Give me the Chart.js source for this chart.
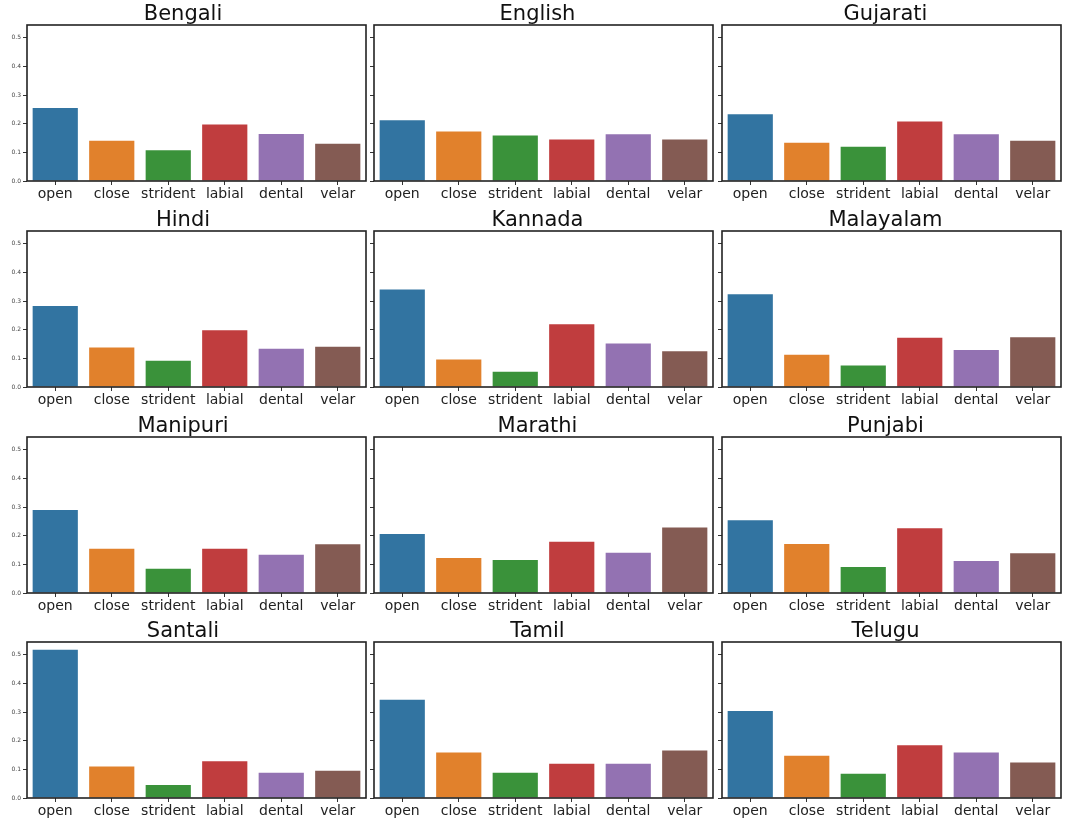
<!DOCTYPE html>
<html>
<head>
<meta charset="utf-8">
<script src="https://cdn.jsdelivr.net/npm/chart.js@4/dist/chart.umd.min.js"></script>
<style>
body { margin: 0; background: #fff; }
#wrap { position: relative; width: 1076px; height: 824px; overflow: hidden; }
#wrap canvas { position: absolute; }
</style>
</head>
<body>
<div id="wrap"></div>
<script>
// categories on the x axis
var categories = ['open', 'close', 'strident', 'labial', 'dental', 'velar'];
var yTicks = [0.0, 0.1, 0.2, 0.3, 0.4, 0.5];

// one small array per language
var bengali   = [0.255, 0.141, 0.107, 0.197, 0.164, 0.130];
var english   = [0.212, 0.173, 0.159, 0.145, 0.163, 0.145];
var gujarati  = [0.233, 0.134, 0.120, 0.208, 0.163, 0.141];
var hindi     = [0.283, 0.138, 0.092, 0.198, 0.134, 0.141];
var kannada   = [0.341, 0.096, 0.053, 0.219, 0.152, 0.125];
var malayalam = [0.324, 0.113, 0.075, 0.172, 0.129, 0.174];
var manipuri  = [0.290, 0.155, 0.085, 0.155, 0.134, 0.170];
var marathi   = [0.206, 0.122, 0.115, 0.179, 0.141, 0.229];
var punjabi   = [0.254, 0.171, 0.091, 0.226, 0.112, 0.139];
var santali   = [0.518, 0.110, 0.045, 0.128, 0.088, 0.095];
var tamil     = [0.343, 0.159, 0.088, 0.120, 0.120, 0.166];
var telugu    = [0.304, 0.148, 0.085, 0.184, 0.159, 0.124];

var panels = [
  ['Bengali', bengali], ['English', english], ['Gujarati', gujarati],
  ['Hindi', hindi], ['Kannada', kannada], ['Malayalam', malayalam],
  ['Manipuri', manipuri], ['Marathi', marathi], ['Punjabi', punjabi],
  ['Santali', santali], ['Tamil', tamil], ['Telugu', telugu]
];

var barColors = ['#3274a1', '#e1812c', '#3a923a', '#c03d3e', '#9372b2', '#845b53'];

// layout of the grid (plot areas)
var colLeft = [27, 374, 722];
var rowTop = [25, 231, 437, 642];
var plotW = 339, plotH = 156;
var titleH = 32, xAxisH = 26, rightPad = 3;

// black frame round each plot area
var framePlugin = {
  id: 'frame',
  afterDraw: function (chart) {
    var a = chart.chartArea, ctx = chart.ctx;
    ctx.save();
    ctx.strokeStyle = '#222';
    ctx.lineWidth = 1.6;
    ctx.strokeRect(a.left, a.top, a.right - a.left, a.bottom - a.top);
    ctx.restore();
  }
};

panels.forEach(function (p, i) {
  var col = i % 3, row = Math.floor(i / 3);
  var axisW = col === 0 ? 27 : 12;
  var cv = document.createElement('canvas');
  var w = axisW + plotW + rightPad, h = titleH + plotH + xAxisH;
  cv.width = w; cv.height = h;
  cv.style.width = w + 'px'; cv.style.height = h + 'px';
  cv.style.left = (colLeft[col] - axisW) + 'px';
  cv.style.top = (rowTop[row] - titleH) + 'px';
  document.getElementById('wrap').appendChild(cv);

  new Chart(cv.getContext('2d'), {
    type: 'bar',
    data: {
      labels: categories,
      datasets: [{
        data: p[1],
        backgroundColor: barColors,
        borderWidth: 0,
        categoryPercentage: 1.0,
        barPercentage: 0.8
      }]
    },
    options: {
      responsive: false,
      animation: false,
      events: [],
      layout: { padding: { left: 0, right: rightPad, top: 0, bottom: 0 } },
      plugins: {
        legend: { display: false },
        tooltip: { enabled: false },
        title: {
          display: true,
          text: p[0],
          color: '#111',
          font: { family: 'DejaVu Sans', size: 21, weight: 'normal', lineHeight: 1.0 },
          padding: { top: 11, bottom: 0 }
        }
      },
      scales: {
        x: {
          offset: true,
          grid: { drawOnChartArea: false, offset: false, tickLength: 4, color: '#333' },
          border: { display: false },
          ticks: {
            autoSkip: false,
            color: '#222',
            padding: 1,
            maxRotation: 0,
            font: { family: 'DejaVu Sans', size: 14 }
          },
          afterFit: function (s) { s.height = xAxisH; }
        },
        y: {
          min: 0,
          max: 0.545,
          grid: { drawOnChartArea: false, tickLength: 4, color: '#333' },
          border: { display: false },
          afterBuildTicks: function (s) { s.ticks = yTicks.map(function (v) { return { value: v }; }); },
          ticks: {
            includeBounds: false,
            color: '#444',
            padding: 2,
            font: { family: 'DejaVu Sans', size: 6 },
            callback: function (v) { return col === 0 ? Number(v).toFixed(1) : ''; }
          },
          afterFit: function (s) { s.width = axisW; }
        }
      }
    },
    plugins: [framePlugin]
  });
});
</script>
</body>
</html>
